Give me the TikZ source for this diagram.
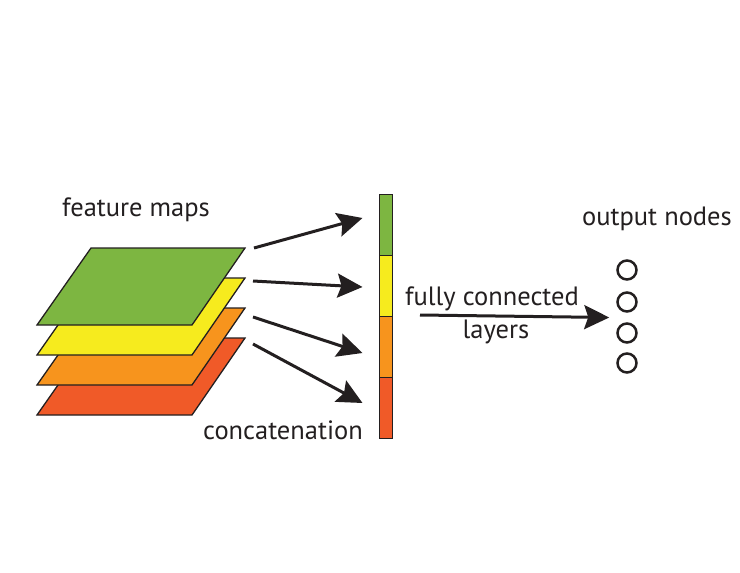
\documentclass[tikz,border=0pt]{standalone}
\usepackage{fontspec}
\setmainfont{PT Sans}
\usepackage{xcolor}
\usetikzlibrary{positioning,calc,arrows.meta}
\definecolor{mapgreen}{RGB}{125,182,65}
\definecolor{mapyellow}{RGB}{246,235,30}
\definecolor{maporange}{RGB}{247,148,29}
\definecolor{mapred}{RGB}{240,90,40}
\definecolor{ink}{RGB}{35,31,32}
\newcommand{\fmap}[3]{\filldraw [fmap, fill=#3] (#2) coordinate (#1) -- ++(154,0) -- ++(-53,77) -- ++(-155,0) -- cycle}
\newcommand{\tnode}[3]{\node [lbl] (#1) at (#2) {#3}}

\begin{document}
\begin{tikzpicture}[x=1pt, y=-1pt,
  fmap/.style={draw=ink, line width=1.3pt},
  seg/.style={draw=ink, line width=1pt, minimum width=13pt, minimum height=61pt, inner sep=0pt},
  onode/.style={circle, draw=ink, line width=2.5pt, minimum size=19pt, inner sep=0pt},
  lbl/.style={text=ink, font=\fontsize{26.5}{28}\selectfont, inner sep=0pt},
  arr/.style={draw=ink, line width=3pt, -{Stealth[length=25pt, width=24pt, inset=4pt]}}]
\useasboundingbox (0,0) rectangle (740,573);

% feature maps, bottom one first
\fmap{RED}{91,338}{mapred};
\fmap{ORA}{91,308}{maporange};
\fmap{YEL}{91,278}{mapyellow};
\fmap{GRE}{91,248}{mapgreen};

% concatenated vector
\node [seg, fill=mapgreen]  (seg1) at (385.5,225) {};
\node [seg, fill=mapyellow] (seg2) at (385.5,286) {};
\node [seg, fill=maporange] (seg3) at (385.5,347) {};
\node [seg, fill=mapred]    (seg4) at (385.5,408) {};

% output nodes
\node [onode] (o1) at (627,270) {};
\node [onode] (o2) at (627,302) {};
\node [onode] (o3) at (627,333) {};
\node [onode] (o4) at (627,363) {};

\tnode{FM}{136,210}{feature maps};
\tnode{CAT}{283,430}{concatenation};
\tnode{OUT}{657,219}{output nodes};
\tnode{FC}{492,299}{fully connected};
\tnode{LAY}{496,332}{layers};

\coordinate (t1) at (254,248);
\coordinate (t2) at (253,281);
\coordinate (t3) at (253,317);
\coordinate (t4) at (253,344);
\coordinate (fcs) at (420,315);

\draw [arr] (t1) -- ($(seg1.west)+(-16,-7)$);
\draw [arr] (t2) -- ($(seg2.west)+(-16,1)$);
\draw [arr] (t3) -- ($(seg3.west)+(-16,6)$);
\draw [arr] (t4) -- ($(seg4.west)+(-16,-5)$);
\draw [arr] (fcs) -- ($(o2.west)!0.5!(o3.west)+(-7,0)$);

\end{tikzpicture}
\end{document}
